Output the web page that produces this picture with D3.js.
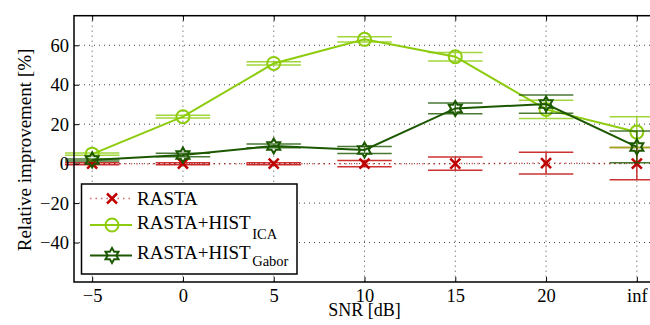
<!DOCTYPE html>
<html>
<head>
<meta charset="utf-8">
<script src="https://cdn.jsdelivr.net/npm/d3@7"></script>
<style>
  body { margin: 0; background: #fff; }
  svg, svg text { font-family: "Liberation Serif", "Times New Roman", Times, Tinos, "DejaVu Serif", "Noto Serif", serif; }
</style>
</head>
<body>
<div id="chart"></div>
<script>
// values
const snrLabels = ['\u22125', '0', '5', '10', '15', '20', 'inf'];
const yTicks = [-40, -20, 0, 20, 40, 60];

const rasta = [0, 0, 0, 0, 0, 0.3, 0];
const rastaErr = [0.5, 0.5, 0.5, 1.6, 3.4, 5.5, 8.2];

const histIca = [4.8, 23.8, 50.8, 63.0, 54.2, 27.5, 16.0];
const histIcaErr = [0.6, 0.7, 0.8, 1.3, 2.2, 4.6, 7.8];

const histGabor = [1.9, 4.4, 9.0, 6.9, 28.0, 30.2, 8.5];
const histGaborErr = [0.5, 0.9, 1.0, 1.8, 2.7, 4.6, 8.1];

const width = 650;
const height = 325;
const margin = {top: 15.7, right: -5, bottom: 43, left: 74};

const svg = d3.select('#chart')
  .append('svg')
  .attr('width', width)
  .attr('height', height);

const x = d3.scaleLinear()
  .domain([-0.2, 6.2])
  .range([margin.left, width - margin.right]);

const y = d3.scaleLinear()
  .domain([-60, 75])
  .range([height - margin.bottom, margin.top]);

const idx = d3.range(snrLabels.length);

// grid
const grid = svg.append('g').attr('stroke', '#444').attr('stroke-width', 1)
  .attr('stroke-dasharray', '1,4');
grid.selectAll('.vg').data(idx).enter().append('line')
  .attr('x1', d => x(d)).attr('x2', d => x(d))
  .attr('y1', y(75)).attr('y2', y(-60));
grid.selectAll('.hg').data(yTicks).enter().append('line')
  .attr('x1', x(-0.2)).attr('x2', x(6.2))
  .attr('y1', d => y(d)).attr('y2', d => y(d));

// hexagram path, point up
const hexagram = r => {
  const pts = [];
  for (let k = 0; k < 12; k++) {
    const a = -Math.PI / 2 + k * Math.PI / 6;
    const rr = k % 2 === 0 ? r : r / Math.sqrt(3);
    pts.push([rr * Math.cos(a), rr * Math.sin(a)]);
  }
  return 'M' + pts.map(p => p.join(',')).join('L') + 'Z';
};

const series = [
  {name: 'RASTA', values: rasta, err: rastaErr, color: '#c00000', dash: '1.5,4', marker: 'x', width: 1.5, lineOpacity: 0.6},
  {name: 'RASTA+HIST', sub: 'ICA', values: histIca, err: histIcaErr, color: '#8ccc0c', dash: null, marker: 'o', width: 2, lineOpacity: 1},
  {name: 'RASTA+HIST', sub: 'Gabor', values: histGabor, err: histGaborErr, color: '#1c5800', dash: null, marker: 'h', width: 2, lineOpacity: 1}
];

const drawMarker = (g, s, cx, cy) => {
  if (s.marker === 'x') {
    const r = 5;
    g.append('path')
      .attr('d', `M${cx - r},${cy - r}L${cx + r},${cy + r}M${cx - r},${cy + r}L${cx + r},${cy - r}`)
      .attr('stroke', s.color).attr('stroke-width', 2.5).attr('fill', 'none');
  } else if (s.marker === 'o') {
    g.append('circle').attr('cx', cx).attr('cy', cy).attr('r', 6.5)
      .attr('stroke', s.color).attr('stroke-width', 2).attr('fill', 'none');
  } else {
    g.append('path').attr('d', hexagram(7.5)).attr('transform', `translate(${cx},${cy})`)
      .attr('stroke', s.color).attr('stroke-width', 2).attr('fill', 'none');
  }
};

const line = d3.line().x((d, i) => x(i)).y(d => y(d));
const capHalf = 0.3;

series.forEach(s => {
  const g = svg.append('g');
  const eb = g.append('g').attr('stroke', s.color).attr('stroke-width', 1.5).attr('opacity', 0.8);
  idx.forEach(i => {
    const lo = y(s.values[i] - s.err[i]);
    const hi = y(s.values[i] + s.err[i]);
    eb.append('line').attr('x1', x(i)).attr('x2', x(i)).attr('y1', lo).attr('y2', hi);
    eb.append('line').attr('x1', x(i - capHalf)).attr('x2', x(i + capHalf)).attr('y1', lo).attr('y2', lo);
    eb.append('line').attr('x1', x(i - capHalf)).attr('x2', x(i + capHalf)).attr('y1', hi).attr('y2', hi);
  });
  g.append('path').datum(s.values)
    .attr('d', line)
    .attr('fill', 'none')
    .attr('stroke', s.color)
    .attr('stroke-width', s.width)
    .attr('stroke-opacity', s.lineOpacity)
    .attr('stroke-dasharray', s.dash);
  idx.forEach(i => drawMarker(g, s, x(i), y(s.values[i])));
});

// axes box with inward ticks
const axisG = svg.append('g');
axisG.append('rect')
  .attr('x', x(-0.2)).attr('y', y(75))
  .attr('width', x(6.2) - x(-0.2)).attr('height', y(-60) - y(75))
  .attr('fill', 'none').attr('stroke', '#000').attr('stroke-width', 1.5);

const xAxis = d3.axisBottom(x).tickValues(idx).tickFormat(i => snrLabels[i])
  .tickSizeInner(-5).tickSizeOuter(0).tickPadding(7);
axisG.append('g').attr('transform', `translate(0,${y(-60)})`).call(xAxis)
  .call(g => g.select('.domain').remove())
  .call(g => g.selectAll('text').attr('font-size', 18.5).attr('fill', '#000'));
axisG.append('g').attr('transform', `translate(0,${y(75)})`)
  .call(d3.axisTop(x).tickValues(idx).tickFormat('').tickSizeInner(-5).tickSizeOuter(0))
  .call(g => g.select('.domain').remove());

const yAxis = d3.axisLeft(y).tickValues(yTicks).tickFormat(d => d < 0 ? '\u2212' + (-d) : d)
  .tickSizeInner(-5).tickSizeOuter(0).tickPadding(5);
axisG.append('g').attr('transform', `translate(${x(-0.2)},0)`).call(yAxis)
  .call(g => g.select('.domain').remove())
  .call(g => g.selectAll('text').attr('font-size', 18.5).attr('fill', '#000'));
axisG.selectAll('.tick line').attr('stroke', '#000').attr('stroke-width', 1);

// axis labels
svg.append('text')
  .attr('x', x(3)).attr('y', 316)
  .attr('text-anchor', 'middle').attr('font-size', 18)
  .text('SNR [dB]');
svg.append('text')
  .attr('transform', `translate(31,150) rotate(-90)`)
  .attr('text-anchor', 'middle').attr('font-size', 19)
  .text('Relative improvement [%]');

// legend
const lg = svg.append('g');
lg.append('rect')
  .attr('x', 81.5).attr('y', 184).attr('width', 215.5).attr('height', 90)
  .attr('fill', '#fff').attr('stroke', '#000').attr('stroke-width', 1.5);
const legendLineY = [198.5, 225, 255.5];
const legendTextY = [204.5, 228.5, 258.5];
series.forEach((s, k) => {
  const ly = legendLineY[k];
  lg.append('line').attr('x1', 90).attr('x2', 132).attr('y1', ly).attr('y2', ly)
    .attr('stroke', s.color).attr('stroke-width', s.width)
    .attr('stroke-opacity', s.lineOpacity).attr('stroke-dasharray', s.dash);
  drawMarker(lg, s, 112, ly);
  const t = lg.append('text').attr('x', 137).attr('y', legendTextY[k]).attr('font-size', 19);
  t.append('tspan').text(s.name);
  if (s.sub) {
    t.append('tspan').attr('font-size', 14.5).attr('dx', 1.5).attr('dy', k === 1 ? 10 : 7.5).text(s.sub);
  }
});
</script>
</body>
</html>
